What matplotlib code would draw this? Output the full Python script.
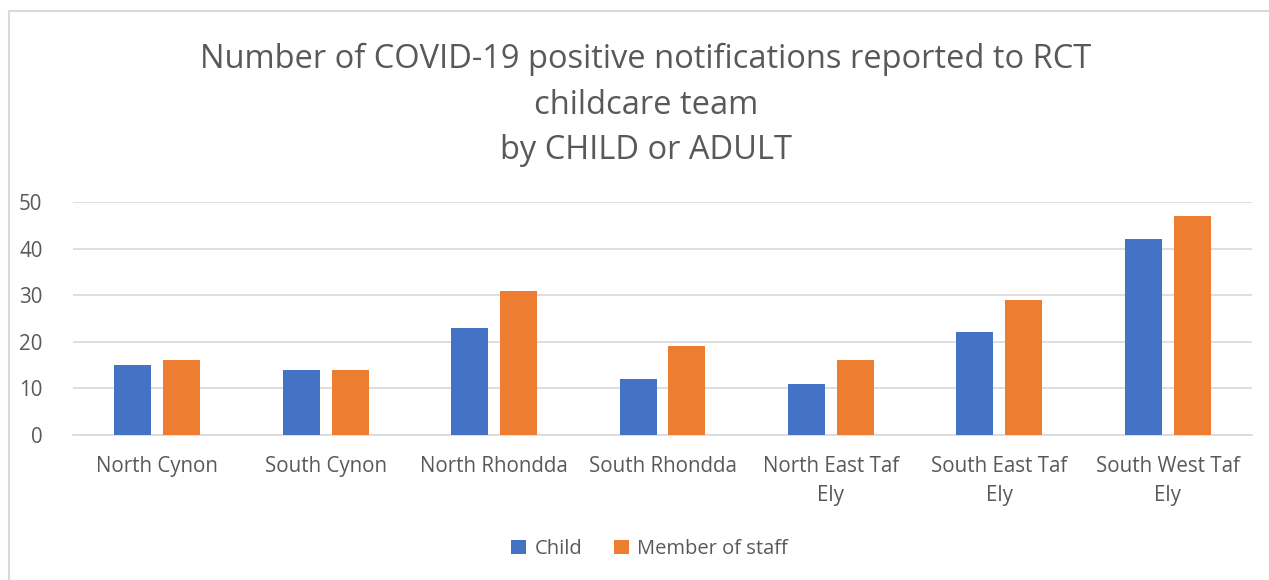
import matplotlib.pyplot as plt
import numpy as np
from matplotlib.patches import Rectangle

areas = ["North Cynon", "South Cynon", "North Rhondda", "South Rhondda",
         "North East Taf\nEly", "South East Taf\nEly", "South West Taf\nEly"]
child = [15, 14, 23, 12, 11, 22, 42]
staff = [16, 14, 31, 19, 16, 29, 47]
yticks = [0, 10, 20, 30, 40, 50]

plt.rcParams['font.family'] = ['Open Sans', 'DejaVu Sans']
grey = "#595959"

fig = plt.figure(figsize=(12.69, 5.80), dpi=100)
# chart border (runs off the right/bottom edge like the screenshot)
fig.patches.append(Rectangle((9 / 1269, -0.05), 1.1, 1 - 11 / 580 + 0.05,
                             transform=fig.transFigure, fill=False,
                             edgecolor="#D9D9D9", linewidth=1.5))

ax = fig.add_axes([73 / 1269, 1 - 435 / 580, (1252 - 73) / 1269, (435 - 202) / 580])
x = np.arange(len(areas))
w = 0.22
ax.bar(x - 0.145, child, w, color="#4472C4", label="Child", zorder=3)
ax.bar(x + 0.145, staff, w, color="#ED7D31", label="Member of staff", zorder=3)

ax.set_xlim(-0.5, len(areas) - 0.5)
ax.set_ylim(0, 50)
ax.set_yticks(yticks)
ax.set_xticks(x)
ax.set_xticklabels(areas, fontsize=14.8, color=grey, linespacing=1.5)
ax.tick_params(axis="y", labelsize=14.8, labelcolor=grey, length=0, pad=22)
ax.tick_params(axis="x", length=0, pad=15)
ax.grid(axis="y", color="#D9D9D9", linewidth=1.2, zorder=0)
for s in ["top", "right", "left"]:
    ax.spines[s].set_visible(False)
ax.spines["bottom"].set_color("#D9D9D9")
ax.spines["bottom"].set_linewidth(1.2)

fig.text(0.509, 1 - 105 / 580,
         "Number of COVID-19 positive notifications reported to RCT\nchildcare team\nby CHILD or ADULT",
         ha="center", va="center", fontsize=23.5, color=grey, linespacing=1.5)

fig.legend(loc="center", bbox_to_anchor=(0.512, 1 - 549 / 580), ncol=2, frameon=False,
           fontsize=14.5, labelcolor=grey, handlelength=0.75, handleheight=0.75,
           handletextpad=0.4, columnspacing=1.6)

fig.savefig("out.png", dpi=100)
